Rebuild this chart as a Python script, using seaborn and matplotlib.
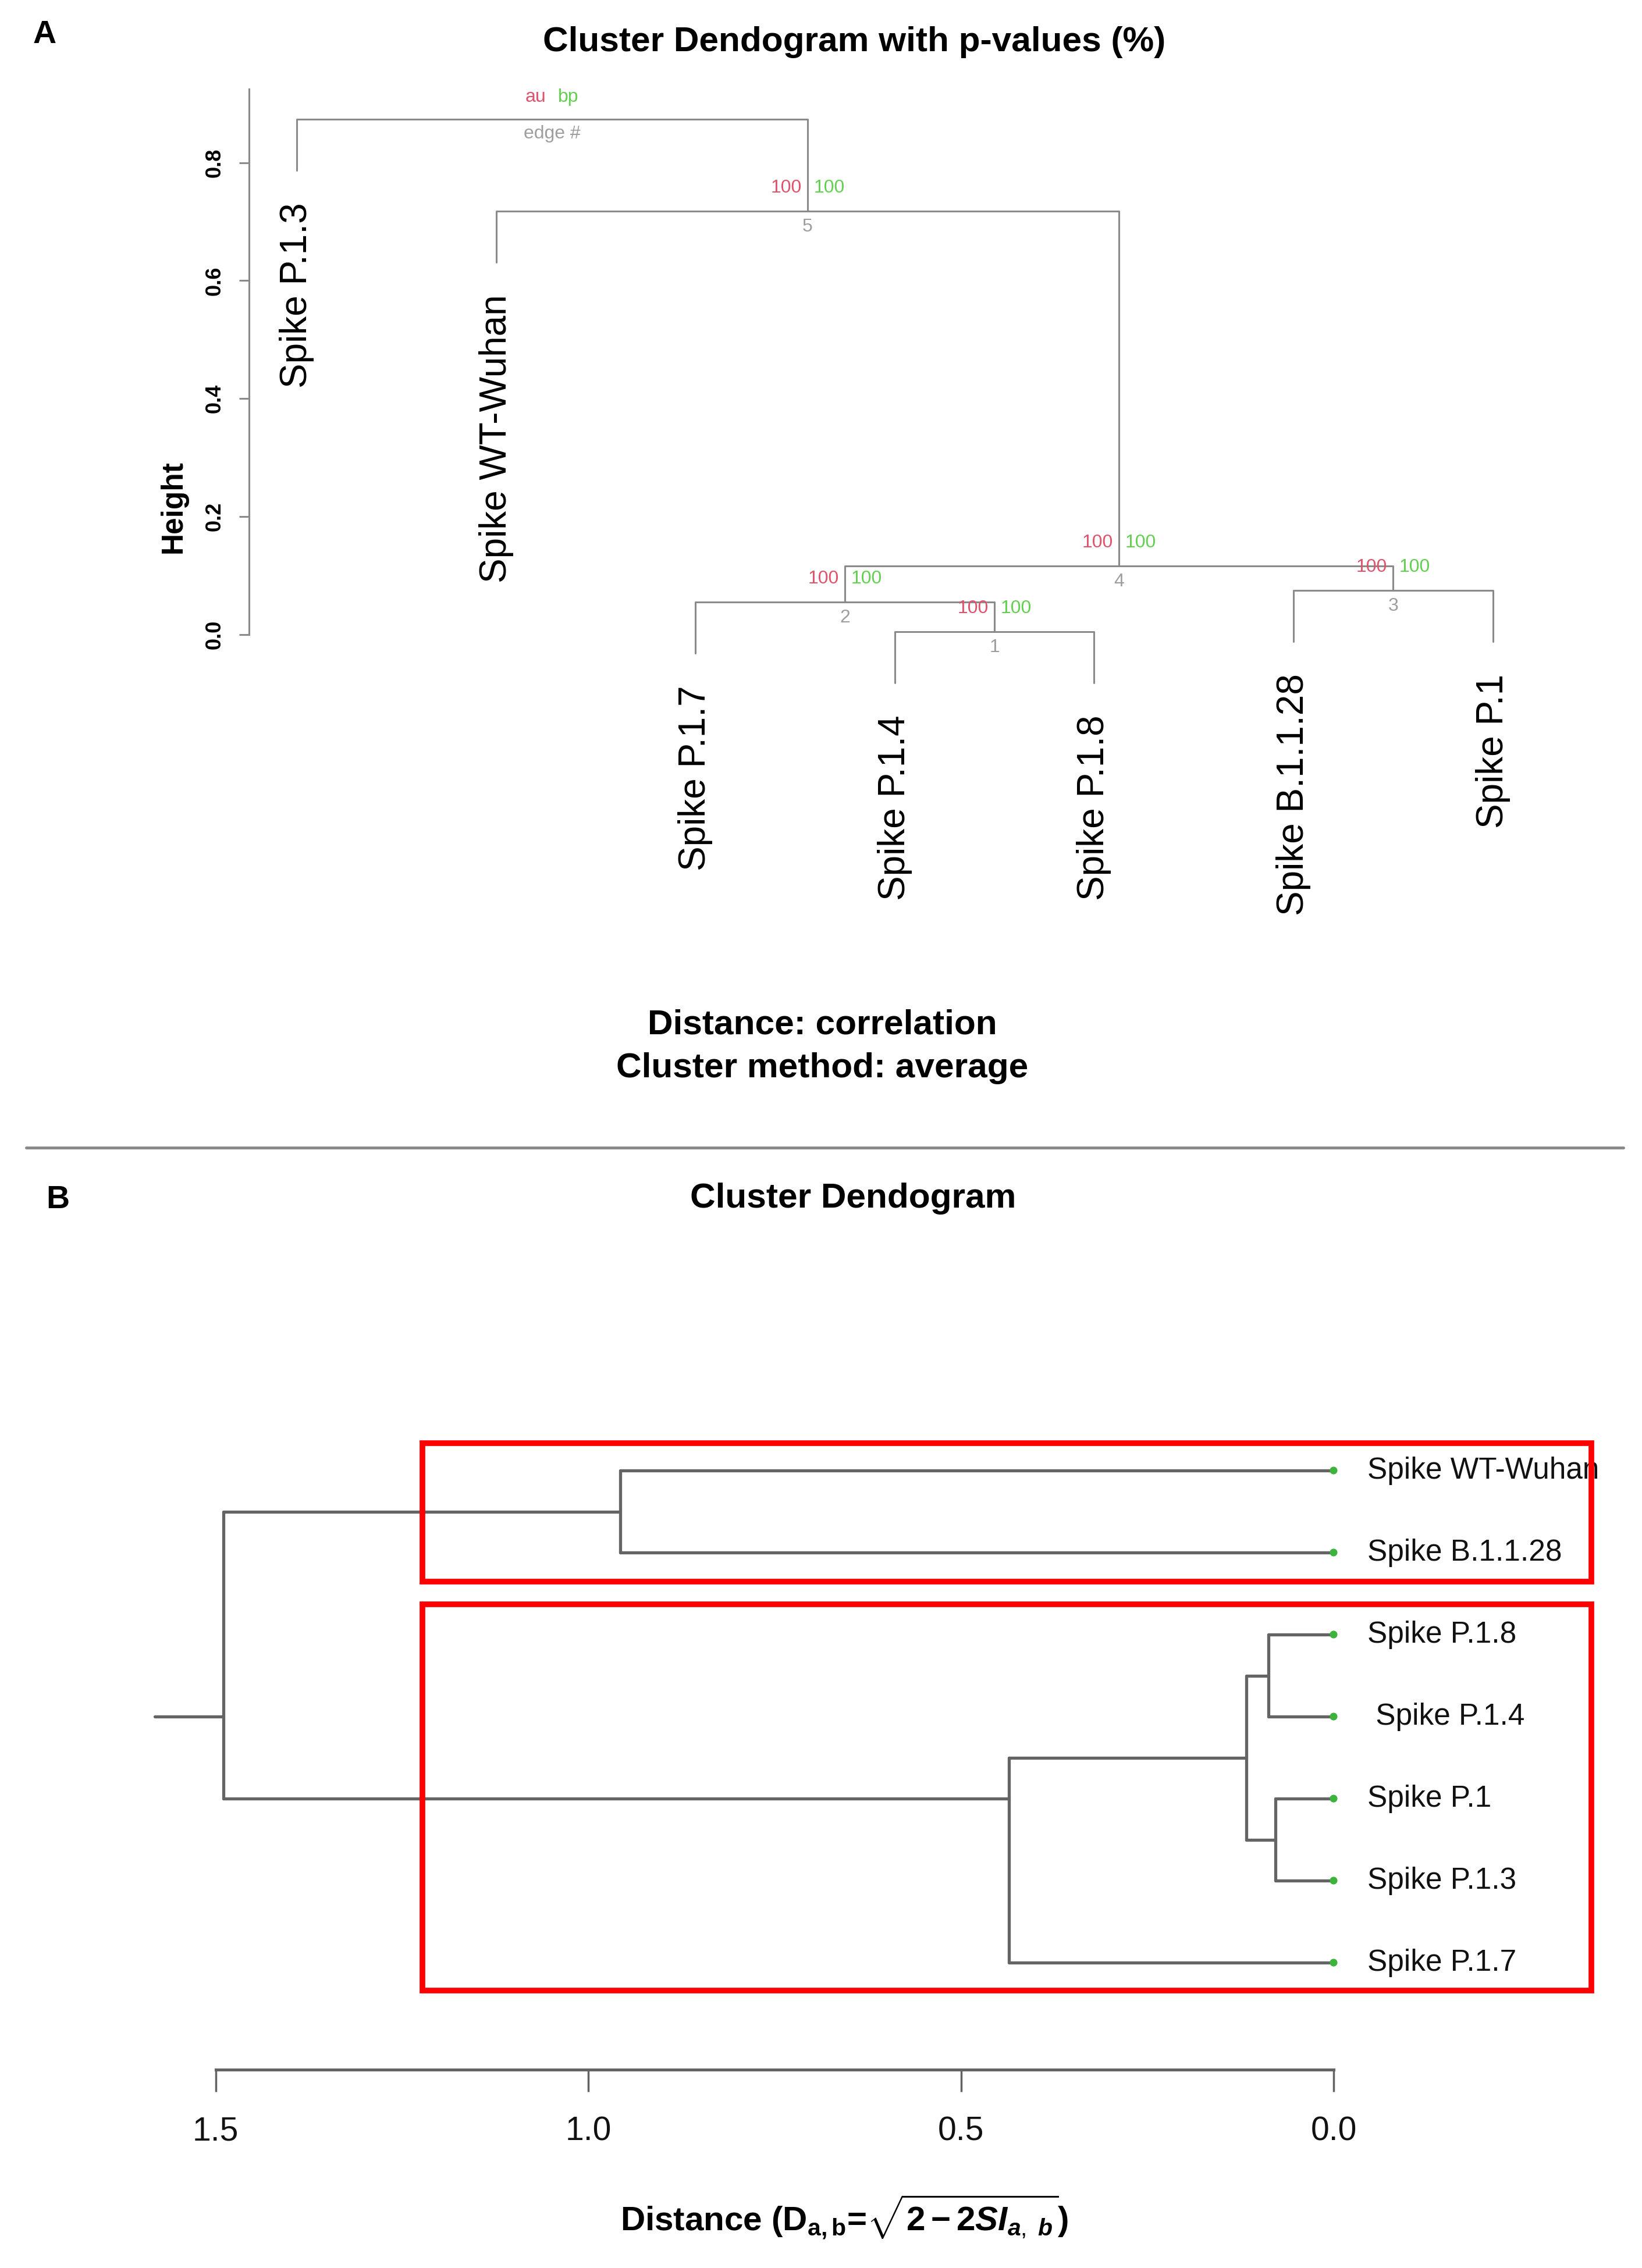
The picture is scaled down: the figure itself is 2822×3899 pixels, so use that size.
import numpy as np
import pandas as pd
import matplotlib
matplotlib.use("Agg")
import matplotlib.pyplot as plt
import seaborn as sns
from matplotlib.lines import Line2D
from matplotlib.patches import Rectangle

# ---- panel A: pvclust dendrogram, leaves in plotted order (left to right)
labels_a = ["Spike P.1.3", "Spike WT-Wuhan", "Spike P.1.7", "Spike P.1.4",
            "Spike P.1.8", "Spike B.1.1.28", "Spike P.1"]
# hclust style merge table: negative = leaf (1-based), positive = earlier merge
merge_a = [(-4, -5), (-3, 1), (-6, -7), (2, 3), (-2, 4), (-1, 5)]
height_a = [0.005, 0.055, 0.075, 0.116, 0.718, 0.874]
edge_a = [1, 2, 3, 4, 5]
au_a = [100, 100, 100, 100, 100]
bp_a = [100, 100, 100, 100, 100]
hang_a = 0.087
yticks_a = [0.0, 0.2, 0.4, 0.6, 0.8]

# ---- panel B: distance dendrogram, leaves top to bottom
labels_b = ["Spike WT-Wuhan", "Spike B.1.1.28", "Spike P.1.8", " Spike P.1.4",
            "Spike P.1", "Spike P.1.3", "Spike P.1.7"]
merge_b = [(-3, -4), (-5, -6), (1, 2), (3, -7), (-1, -2), (5, 4)]
dist_b = [0.0875, 0.078, 0.117, 0.436, 0.957, 1.490]
root_len_b = 0.092
xticks_b = [1.5, 1.0, 0.5, 0.0]

# red boxes drawn on panel B (distance left, distance right, leaf top, leaf bottom)
boxes_b = [(1.2226, -0.3459, -0.335, 1.357),
           (1.2226, -0.3459, 1.630, 6.342)]

AU_COL, BP_COL, EDGE_COL = "#DF536B", "#61D04F", "#9E9E9E"
GRAY_A = "#8a8a8a"
GRAY_B = "#646464"

# layout measured on a 1134 x 1567 copy of the reference
W, H = 1134, 1567


def fx(px):
    return px / W


def fy(py):
    return 1 - py / H


def hclust_segments(merge, height, hang):
    node_x, rows, leaf_end = [], [], {}
    for k, ((a, b), h) in enumerate(zip(merge, height)):
        ends = []
        for c in (a, b):
            if c < 0:
                ends.append((-c, h - hang))
                leaf_end[-c] = h - hang
            else:
                ends.append((node_x[c - 1], height[c - 1]))
        (x1, y1), (x2, y2) = ends
        for x, y in [(x1, y1), (x1, h), (x2, h), (x2, y2)]:
            rows.append({"seg": k, "x": x, "y": y})
        node_x.append((x1 + x2) / 2)
    return pd.DataFrame(rows), node_x, leaf_end


def phylo_segments(merge, dist, root_len):
    # node y = mean position of all tips below it
    node_y, node_tips, rows = [], [], []
    seg = 0
    for (a, b), d in zip(merge, dist):
        ys, tips = [], []
        for c in (a, b):
            if c < 0:
                cy, cx, t = -c - 1, 0.0, [-c - 1]
            else:
                cy, cx, t = node_y[c - 1], dist[c - 1], node_tips[c - 1]
            rows += [{"seg": seg, "x": cx, "y": cy}, {"seg": seg, "x": d, "y": cy}]
            seg += 1
            ys.append(cy)
            tips += t
        rows += [{"seg": seg, "x": d, "y": ys[0]}, {"seg": seg, "x": d, "y": ys[1]}]
        seg += 1
        node_y.append(np.mean(tips))
        node_tips.append(tips)
    rows += [{"seg": seg, "x": dist[-1], "y": node_y[-1]},
             {"seg": seg, "x": dist[-1] + root_len, "y": node_y[-1]}]
    return pd.DataFrame(rows)


sns.set_theme(style="white")
plt.rcParams["font.family"] = ["Liberation Sans", "DejaVu Sans"]
plt.rcParams["text.color"] = "black"
plt.rcParams["mathtext.fontset"] = "custom"
plt.rcParams["mathtext.rm"] = "Liberation Sans"
plt.rcParams["mathtext.it"] = "Liberation Sans:italic"
plt.rcParams["mathtext.bf"] = "Liberation Sans:bold"
plt.rcParams["mathtext.bfit"] = "Liberation Sans:italic:bold"

fig = plt.figure(figsize=(28.22, 38.99), dpi=100)

# ================= panel A
axA = fig.add_axes([fx(172), fy(682.74), fx(1064) - fx(172), fy(61.45) - fy(682.74)])
seg_a, node_x, leaf_end = hclust_segments(merge_a, height_a, hang_a)
sns.lineplot(data=seg_a, x="x", y="y", units="seg", estimator=None, sort=False,
             color=GRAY_A, linewidth=2.2, legend=False, ax=axA)
axA.set_xlim(0.76, 7.24)
axA.set_ylim(-0.6, 0.925)

for i, lab in enumerate(labels_a, start=1):
    axA.text(i, leaf_end[i] - 0.055, lab, rotation=90, ha="center", va="top",
             fontsize=46, color="black")

for k in range(len(au_a)):
    x, h = node_x[k], height_a[k]
    axA.text(x - 0.03, h + 0.039, str(au_a[k]), color=AU_COL, fontsize=23,
             ha="right", va="center")
    axA.text(x + 0.03, h + 0.039, str(bp_a[k]), color=BP_COL, fontsize=23,
             ha="left", va="center")
    axA.text(x, h - 0.027, str(edge_a[k]), color=EDGE_COL, fontsize=23,
             ha="center", va="center")
# legend of the label colours sits on the root
xr, hr = node_x[-1], height_a[-1]
axA.text(xr - 0.03, hr + 0.037, "au", color=AU_COL, fontsize=23, ha="right", va="center")
axA.text(xr + 0.03, hr + 0.037, "bp", color=BP_COL, fontsize=23, ha="left", va="center")
axA.text(xr, hr - 0.025, "edge #", color=EDGE_COL, fontsize=23, ha="center", va="center")

for side in ["top", "right", "bottom"]:
    axA.spines[side].set_visible(False)
axA.spines["left"].set_bounds(0, 0.925)
axA.spines["left"].set_color(GRAY_A)
axA.spines["left"].set_linewidth(2.2)
axA.set_xticks([])
axA.set_yticks(yticks_a)
axA.set_yticklabels([f"{t:.1f}" for t in yticks_a], rotation=90, va="center",
                    fontweight="bold", fontsize=26)
axA.tick_params(axis="y", left=True, length=12, width=2.2, color=GRAY_A,
                labelcolor="black", pad=18)
axA.set_xlabel("")
axA.set_ylabel("")

fig.text(fx(31), fy(24), "A", fontsize=40, fontweight="bold", ha="center", va="center")
fig.text(fx(590), fy(29), "Cluster Dendogram with p-values (%)", fontsize=43.5,
         fontweight="bold", ha="center", va="center")
fig.text(fx(120), fy(350), "Height", fontsize=37, fontweight="bold", rotation=90,
         ha="center", va="center")
fig.text(fx(568), fy(708), "Distance: correlation", fontsize=43.5, fontweight="bold",
         ha="center", va="center")
fig.text(fx(568), fy(738), "Cluster method: average", fontsize=43.5, fontweight="bold",
         ha="center", va="center")

fig.add_artist(Line2D([fx(18), fx(1121)], [fy(793), fy(793)], color="#8a8a8a", lw=3.6))

# ================= panel B
axB = fig.add_axes([fx(100), fy(1430), fx(1110) - fx(100), fy(982) - fy(1430)])
seg_b = phylo_segments(merge_b, dist_b, root_len_b)
sns.lineplot(data=seg_b, x="x", y="y", units="seg", estimator=None, sort=False,
             color=GRAY_B, linewidth=3.8, legend=False, ax=axB)
sns.scatterplot(x=[0.0] * len(labels_b), y=list(range(len(labels_b))), color="#3cb43c",
                s=90, edgecolor="none", zorder=4, ax=axB)
axB.set_xlim(1.5952, -0.3672)
axB.set_ylim(7.3056, -0.6)

for i, lab in enumerate(labels_b):
    axB.text(-0.045, i, lab, ha="left", va="center", fontsize=37, color="#111111")

for x0, x1, y0, y1 in boxes_b:
    axB.add_patch(Rectangle((x1, y0), x0 - x1, y1 - y0, fill=False, ec="#ff0000",
                            lw=7, zorder=5, clip_on=False))

for side in ["top", "right", "left"]:
    axB.spines[side].set_visible(False)
axB.spines["bottom"].set_bounds(0, 1.5)
axB.spines["bottom"].set_color(GRAY_B)
axB.spines["bottom"].set_linewidth(3.6)
axB.set_yticks([])
axB.set_xticks(xticks_b)
axB.set_xticklabels([f"{t:.1f}" for t in xticks_b], fontsize=41)
axB.tick_params(axis="x", bottom=True, length=27, width=2.5, color=GRAY_B,
                labelcolor="#111111", pad=30)
axB.set_xlabel("")
axB.set_ylabel("")

fig.text(fx(40), fy(829), "B", fontsize=40, fontweight="bold", ha="center", va="center")
fig.text(fx(589), fy(828), "Cluster Dendogram", fontsize=43.5, fontweight="bold",
         ha="center", va="center")
fig.text(fx(583), fy(1532),
         r"Distance (D$_{\mathbf{a,b}}$=$\sqrt{\mathbf{2 - 2}\mathbfit{SI}_{\mathbfit{a},\ \mathbfit{b}}}$)",
         fontsize=42, fontweight="bold", ha="center", va="center")

fig.savefig("out.png", dpi=100, facecolor="white")
